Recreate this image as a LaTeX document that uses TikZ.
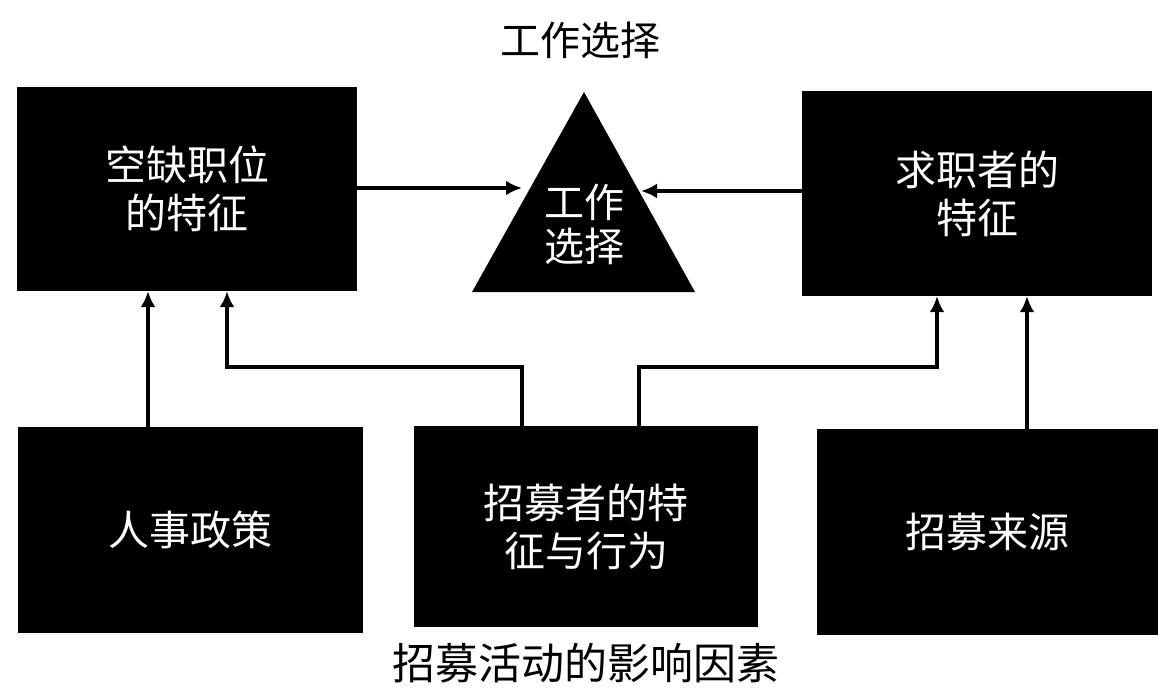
\documentclass[tikz,border=0pt]{standalone}
\usepackage{fontspec}
\setmainfont{Noto Sans CJK SC}
\usetikzlibrary{arrows.meta}
\tikzset{
  box/.style={fill=black, draw=none, text=white, align=center, inner sep=0pt,
    font=\fontsize{41}{48}\selectfont},
  conn/.style={line width=4pt, draw=black},
  arr/.style={conn, -{Latex[length=16pt,width=15pt]}},
  lbl/.style={text=black, inner sep=0pt}
}
\begin{document}
\begin{tikzpicture}[x=1pt,y=-1pt]
\useasboundingbox (0,0) rectangle (1158,696);
% title
\node[lbl, font=\fontsize{40}{42}\selectfont] (title) at (580,40) {工作选择};
% boxes
\node[box, minimum width=340pt, minimum height=204pt] (tl) at (187,189) {空缺职位\\的特征};
\node[box, minimum width=350pt, minimum height=205pt] (tr) at (977,193.5) {求职者的\\特征};
\node[box, minimum width=345pt, minimum height=206pt] (bl) at (190.5,530) {人事政策};
\node[box, minimum width=344pt, minimum height=201pt] (bc) at (586,526.5) {招募者的特\\征与行为};
\node[box, minimum width=341pt, minimum height=206pt] (br) at (987.5,532) {招募来源};
% triangle
\coordinate (apex) at (584,92);
\coordinate (bL) at (472,292);
\coordinate (bR) at (695,292);
\fill[black] (apex) -- (bL) -- (bR) -- cycle;
\node[lbl, text=white, align=center, font=\fontsize{40}{44}\selectfont] (tri) at (584,224) {工作\\选择};
\coordinate (triL) at (522,188);
\coordinate (triR) at (641,191);
% caption
\node[lbl, font=\fontsize{43}{45}\selectfont] (cap) at (586,663) {招募活动的影响因素};
% arrows into triangle
\draw[arr] (tl.east |- triL) -- (triL);
\draw[arr] (tr.west |- triR) -- (triR);
% vertical arrows
\coordinate (a1) at (148,0);
\coordinate (a2) at (227,0);
\coordinate (a3) at (937,0);
\coordinate (a4) at (1027,0);
\coordinate (c1) at (522,367);
\coordinate (c2) at (639,367);
\draw[arr] (bl.north -| a1) -- (tl.south -| a1);
\draw[arr] (bc.north -| c1) -- (c1) -- (c1 -| a2) -- (tl.south -| a2);
\draw[arr] (bc.north -| c2) -- (c2) -- (c2 -| a3) -- (tr.south -| a3);
\draw[arr] (br.north -| a4) -- (tr.south -| a4);
\end{tikzpicture}
\end{document}
